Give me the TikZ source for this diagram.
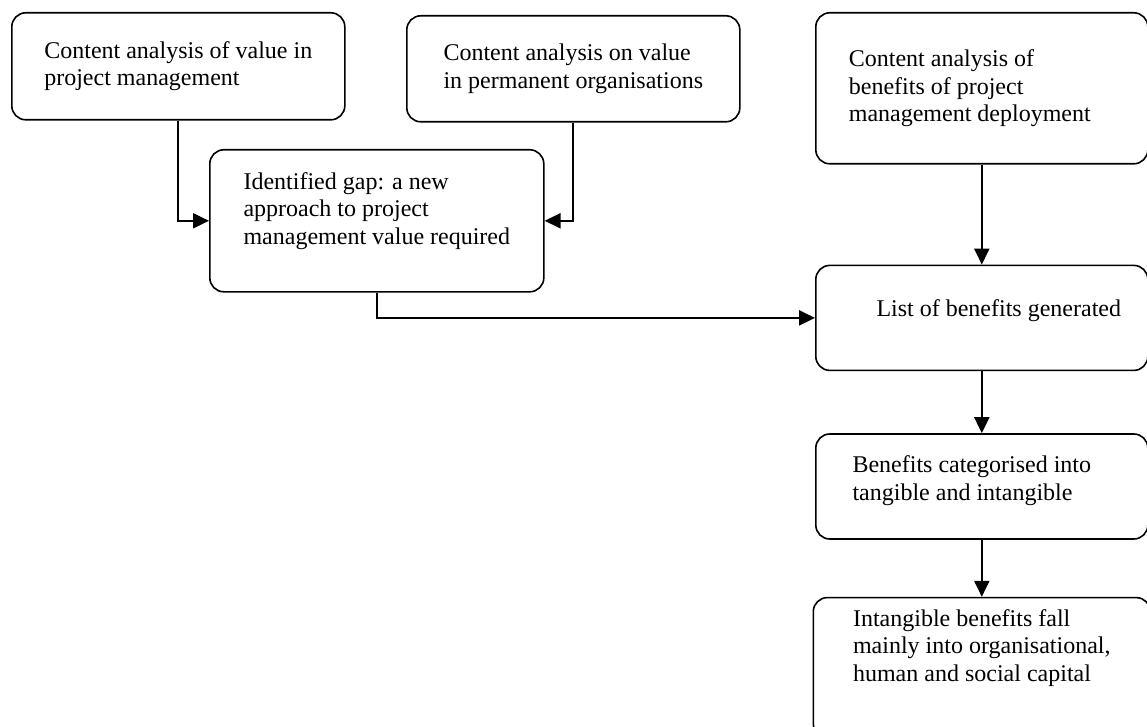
\documentclass[tikz,border=0pt]{standalone}
\usepackage{fontspec}
\setmainfont{Liberation Serif}
\usetikzlibrary{positioning,arrows.meta}

\begin{document}
\begin{tikzpicture}[x=1pt,y=1pt,>={Triangle[length=16pt,width=15pt]},
  node distance=100pt,
  box/.style={draw,line width=1.6pt,rounded corners=14pt,align=left,
    font=\fontsize{24}{27.5}\selectfont,minimum width=333pt,inner sep=0pt},
  lift/.style={text depth=#1},
  link/.style={->,line width=2pt}]
\useasboundingbox (0,0) rectangle (1147,-727);
\node[box,anchor=north west,minimum height=107pt] (valuepm) at (11,-12) {Content analysis of value in\\project management};
\node[box,anchor=north west,minimum height=106pt] (valueorg) at (406,-15) {Content analysis on value\\in permanent organisations};
\node[box,anchor=north west,minimum width=332pt,minimum height=151pt] (benefits) at (815,-12) {Content analysis of\\benefits of project\\management deployment\hspace*{24pt}};
\node[box,lift=25pt,anchor=north west,minimum width=334pt,minimum height=142pt] (gap) at (209,-149) {Identified gap: a new\\approach to project\\management value required};
\node[box,lift=19pt,minimum width=332pt,minimum height=105pt,below=of benefits] (list) {\hspace*{34pt}List of benefits generated};
\node[box,lift=17pt,minimum width=332pt,minimum height=105pt,below=62pt of list] (categ) {Benefits categorised into\hspace*{20pt}\\tangible and intangible};
\node[box,lift=45pt,minimum width=337pt,minimum height=140pt,below=57pt of categ] (capital) {Intangible benefits fall\\mainly into organisational,\\human and social capital};

\draw[link] (valuepm.south) |- (gap.west);
\draw[link] (valueorg.south) |- (gap.east);
\draw[link] (gap.south) |- (list.west);
\draw[link] (benefits) -- (list);
\draw[link] (list) -- (categ);
\draw[link] (categ.south) -- (categ.south |- capital.north);
\end{tikzpicture}
\end{document}
